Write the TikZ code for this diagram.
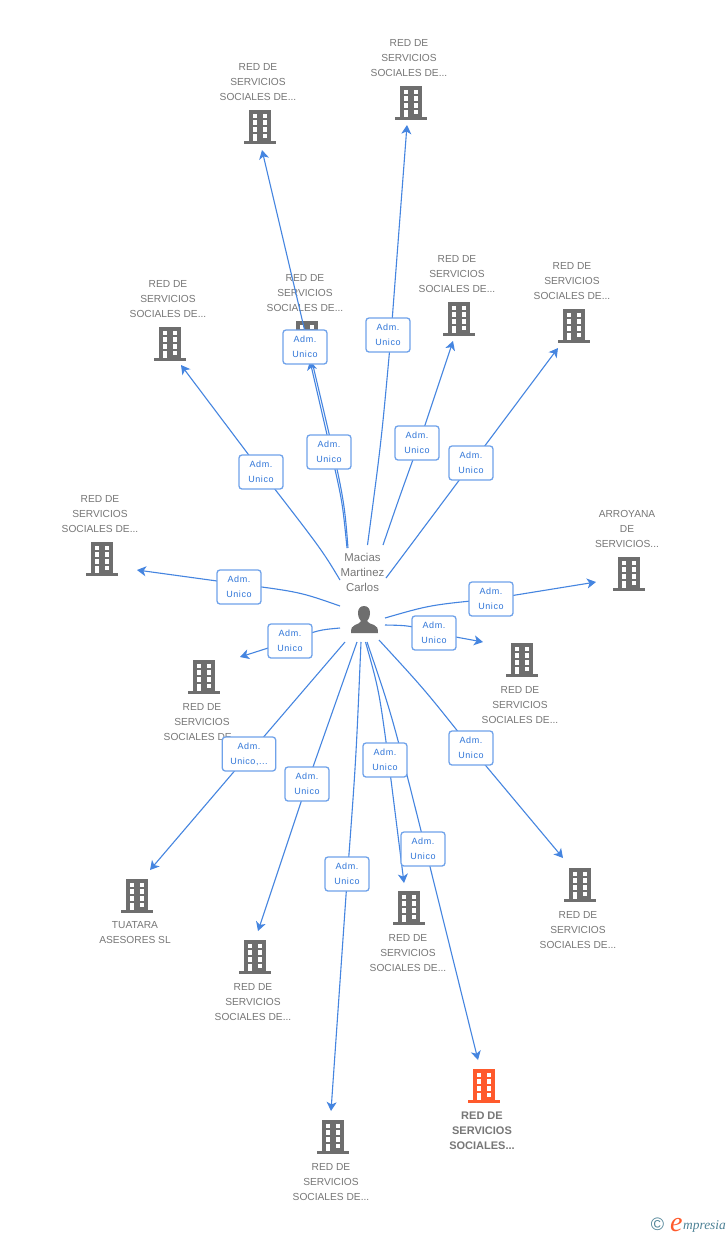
\documentclass[tikz,border=0pt]{standalone}
\usepackage{fontspec}
\setmainfont{Liberation Sans}
\newfontfamily\lblfont[LetterSpace=6]{Liberation Sans}
\newfontfamily\logofont{Liberation Serif}
\usetikzlibrary{arrows.meta}
\definecolor{bgray}{HTML}{6E6E6E}
\definecolor{tgray}{HTML}{777777}
\definecolor{eblue}{HTML}{4585E0}
\definecolor{bblue}{HTML}{6FA2EA}
\definecolor{lblue}{HTML}{2F75D8}
\definecolor{orng}{HTML}{FF5A2C}
\definecolor{logob}{HTML}{4D8296}
\pgfdeclarelayer{base}
\pgfdeclarelayer{edges}
\pgfsetlayers{base,edges,main}
\tikzset{
  x=1pt,y=-1pt,
  conn/.style={draw=eblue,line width=1.1pt,-{Stealth[length=9pt,width=10pt,inset=2.5pt]}},
  adm/.style={draw=bblue,line width=1.3pt,fill=white,rounded corners=3pt,minimum width=44pt,minimum height=34pt,inner xsep=8pt,inner ysep=0pt,align=center,text=lblue,font=\fontsize{9}{15}\selectfont\lblfont},
  captxt/.style={text=tgray,align=center,inner sep=0pt,font=\fontsize{10.2}{15}\selectfont},
  perstxt/.style={text=tgray,align=center,inner sep=0pt,font=\fontsize{11.4}{15}\selectfont},
  capb/.style={text=tgray,align=center,inner sep=0pt,font=\fontsize{11}{15}\selectfont\bfseries},
}
% building: centre x, y, colour
\newcommand{\bld}[3]{%
  \begin{scope}[shift={(#1,#2)}]
    \fill[#3] (-11,-17) rectangle (11,14);
    \fill[#3] (-16,14) rectangle (16,17);
    \foreach \wy in {-13.3,-6.7,0}{
      \fill[white] (-7.4,\wy) rectangle (-2.6,\wy+4.7);
      \fill[white] (2.6,\wy) rectangle (7.4,\wy+4.7);
    }
    \fill[white] (2.6,6.7) rectangle (7.4,11.4);
    \fill[white] (-7.4,6.7) rectangle (-2.6,14);
  \end{scope}}
% name, start, control, label position, line offset at label, end, text
\newcommand{\link}[7]{%
  \coordinate (s#1) at (#2);
  \coordinate (c#1) at (#3);
  \coordinate (e#1) at (#6);
  \node[adm] (l#1) at (#4) {Adm.\\#7};
  \begin{pgfonlayer}{edges}
    \draw[conn] (s#1) .. controls (c#1) .. ([shift={(#5)}]l#1.center) -- (e#1);
  \end{pgfonlayer}}
\begin{document}
\begin{tikzpicture}
\useasboundingbox (0,0) rectangle (728,1235);
\begin{pgfonlayer}{base}
\fill[white] (0,0) rectangle (728,1235);
\bld{260}{127}{bgray}
\bld{411}{103}{bgray}
\bld{170}{344}{bgray}
\bld{307}{338}{bgray}
\bld{459}{319}{bgray}
\bld{574}{326}{bgray}
\bld{102}{559}{bgray}
\bld{629}{574}{bgray}
\bld{522}{660}{bgray}
\bld{204}{677}{bgray}
\bld{137}{896}{bgray}
\bld{255}{957}{bgray}
\bld{409}{908}{bgray}
\bld{580}{885}{bgray}
\bld{333}{1137}{bgray}
\bld{484}{1086}{orng}
\node[captxt] (t1) at (258,82) {RED DE\\SERVICIOS\\SOCIALES DE...};
\node[captxt] (t2) at (409,58) {RED DE\\SERVICIOS\\SOCIALES DE...};
\node[captxt] (t3) at (168,299) {RED DE\\SERVICIOS\\SOCIALES DE...};
\node[captxt] (t4) at (305,293) {RED DE\\SERVICIOS\\SOCIALES DE...};
\node[captxt] (t5) at (457,274) {RED DE\\SERVICIOS\\SOCIALES DE...};
\node[captxt] (t6) at (572,281) {RED DE\\SERVICIOS\\SOCIALES DE...};
\node[captxt] (t7) at (100,514) {RED DE\\SERVICIOS\\SOCIALES DE...};
\node[captxt] (t8) at (627,529) {ARROYANA\\DE\\SERVICIOS...};
\node[captxt] (t9) at (520,705) {RED DE\\SERVICIOS\\SOCIALES DE...};
\node[captxt] (t10) at (202,722) {RED DE\\SERVICIOS\\SOCIALES DE...};
\node[captxt] (t11) at (135,933) {TUATARA\\ASESORES SL};
\node[captxt] (t12) at (253,1002) {RED DE\\SERVICIOS\\SOCIALES DE...};
\node[captxt] (t13) at (408,953) {RED DE\\SERVICIOS\\SOCIALES DE...};
\node[captxt] (t14) at (578,930) {RED DE\\SERVICIOS\\SOCIALES DE...};
\node[captxt] (t15) at (331,1182) {RED DE\\SERVICIOS\\SOCIALES DE...};
\node[capb] (t16) at (482,1130.5) {RED DE\\SERVICIOS\\SOCIALES...};
\node[perstxt] (p) at (362.5,572) {Macias\\Martinez\\Carlos};
% person
\fill[bgray] (364,606) .. controls (360,606) and (358,609) .. (358,613)
  .. controls (358,617) and (360,620) .. (361,621)
  .. controls (360,623) and (358,624) .. (355,625)
  .. controls (352,626) and (351,628) .. (351,633)
  -- (378,633)
  .. controls (378,628) and (377,626) .. (374,625)
  .. controls (371,624) and (368,623) .. (367,621)
  .. controls (368,620) and (370,617) .. (370,613)
  .. controls (370,609) and (368,606) .. (364,606) -- cycle;
% logo
\node[inner sep=0pt,text=logob,font=\fontsize{18}{18}\selectfont] (lg1) at (657.5,1224) {©};
\node[inner sep=0pt,text=orng,anchor=base west,font=\fontsize{28}{28}\selectfont\logofont\itshape] (lg2) at (670,1231) {e};
\node[inner sep=0pt,text=logob,anchor=base west,font=\fontsize{13.4}{14}\selectfont\logofont\itshape] (lg3) at (683,1229) {mpresia};
\end{pgfonlayer}
\link{a}{348,548}{344,496}{305,347}{3.6,0}{262,150}{Unico}
\link{b}{347,548}{342.4,501.5}{329,452}{2,0}{310,361}{Unico}
\link{c}{367.5,545}{381.5,440}{388,335}{3,0}{407,125}{Unico}
\link{d}{383,545}{399.5,497}{417,443}{2,0}{453,341}{Unico}
\link{f}{386,578}{428,522}{471,463}{1,0}{558,348}{Unico}
\link{g}{340,580}{322,550}{261,472}{0.6,0}{181,365}{Unico}
\link{h}{340,606}{300,592}{239,587}{0,-3}{137,570}{Unico}
\link{i}{385,618}{430,605}{491,599}{0,0}{596,582}{Unico}
\link{j}{385,625}{410,625.5}{434,633}{0,0}{483,642}{Unico}
\link{k}{340,628}{318,630}{290,641}{0,0}{240,657}{Unico}
\link{m}{345,642}{297,698}{249,754}{0,0}{150,870}{Unico,...}
\link{n}{357,642}{332,713}{307,784}{0,0}{258,931}{Unico}
\link{o}{361,642}{356,760}{347,874}{0.5,0}{331,1111}{Unico}
\link{q}{365.5,642}{379,690}{385,760}{3.5,0}{404,883}{Unico}
\link{r}{367,642}{392,715}{423,849}{2.6,0}{478,1060}{Unico}
\link{u}{379,640}{425,690}{471,748}{0,0}{563,858}{Unico}
\end{tikzpicture}
\end{document}
